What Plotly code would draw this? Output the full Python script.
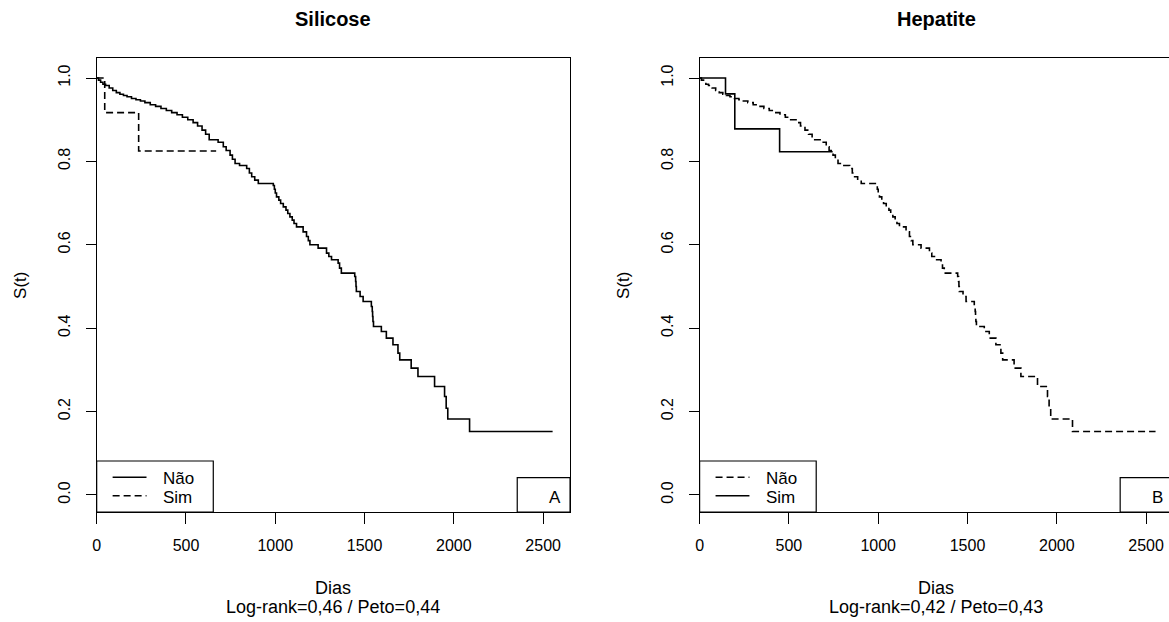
import plotly.graph_objects as go

# ---------------- data ----------------
# Silicose panel, group "Não" (solid)
sil_nao_t = [0, 10, 22, 35, 50, 70, 90, 110, 130, 150, 170, 195, 220, 245, 270, 300, 330, 360,
             390, 420, 450, 480, 510, 540, 565, 590, 610, 630, 680, 709, 725, 747, 760, 775,
             800, 840, 855, 868, 885, 905, 989, 995, 1000, 1007, 1020, 1030, 1045, 1060, 1070,
             1082, 1095, 1105, 1119, 1156, 1175, 1185, 1194, 1240, 1287, 1300, 1315, 1352, 1360,
             1370, 1445, 1450, 1452, 1454, 1475, 1492, 1538, 1543, 1545, 1547, 1550, 1594, 1622,
             1659, 1687, 1697, 1761, 1799, 1892, 1948, 1957, 1966, 2088, 2553]
sil_nao_s = [1.0, 0.995, 0.99, 0.985, 0.982, 0.976, 0.970, 0.965, 0.961, 0.958, 0.955, 0.951,
             0.948, 0.945, 0.941, 0.936, 0.932, 0.927, 0.922, 0.917, 0.912, 0.906, 0.900, 0.893,
             0.885, 0.875, 0.865, 0.852, 0.846, 0.835, 0.826, 0.815, 0.805, 0.795, 0.790, 0.783,
             0.772, 0.763, 0.755, 0.747, 0.742, 0.733, 0.724, 0.715, 0.707, 0.699, 0.691, 0.683,
             0.675, 0.667, 0.659, 0.651, 0.643, 0.631, 0.620, 0.610, 0.600, 0.592, 0.580, 0.572,
             0.564, 0.556, 0.544, 0.532, 0.524, 0.512, 0.500, 0.488, 0.476, 0.464, 0.452, 0.440,
             0.428, 0.416, 0.404, 0.392, 0.376, 0.360, 0.340, 0.324, 0.304, 0.284, 0.260, 0.236,
             0.208, 0.182, 0.152, 0.152]
# Silicose panel, group "Sim" (dashed)
sil_sim_t = [0, 45, 235, 669]
sil_sim_s = [1.0, 0.917, 0.825, 0.825]

# Hepatite panel, group "Não" (dashed)
hep_nao_t = list(sil_nao_t)
hep_nao_s = list(sil_nao_s)
# Hepatite panel, group "Sim" (solid)
hep_sim_t = [0, 145, 197, 448, 745]
hep_sim_s = [1.0, 0.962, 0.878, 0.823, 0.823]

x_ticks = [0, 500, 1000, 1500, 2000, 2500]
y_ticks = [0.0, 0.2, 0.4, 0.6, 0.8, 1.0]
y_ticktext = ["0.0", "0.2", "0.4", "0.6", "0.8", "1.0"]

titles = ["Silicose", "Hepatite"]
subtitles = ["Log-rank=0,46 / Peto=0,44", "Log-rank=0,42 / Peto=0,43"]
panel_letters = ["A", "B"]

# ---------------- layout helpers ----------------
W, H = 1169, 622
FONT = "Liberation Sans, Arial, sans-serif"
PXDAY = 0.1792  # pixels per day


def px(x):
    return x / W


def py(y):
    return 1 - y / H


BOX_TOP, BOX_BOT = 58, 512
L0, L1 = 93, 568
R0 = 698
DASH = "7px,4px"
LW = 1.6
BW = 1.2

fig = go.Figure()
fig.add_trace(go.Scatter(x=sil_nao_t, y=sil_nao_s, mode="lines", name="Não",
                         line=dict(shape="hv", color="black", width=LW),
                         xaxis="x", yaxis="y", showlegend=False))
fig.add_trace(go.Scatter(x=sil_sim_t, y=sil_sim_s, mode="lines", name="Sim",
                         line=dict(shape="hv", color="black", width=LW, dash=DASH),
                         xaxis="x", yaxis="y", showlegend=False))
fig.add_trace(go.Scatter(x=hep_nao_t, y=hep_nao_s, mode="lines", name="Não",
                         line=dict(shape="hv", color="black", width=LW, dash=DASH),
                         xaxis="x2", yaxis="y2", showlegend=False))
fig.add_trace(go.Scatter(x=hep_sim_t, y=hep_sim_s, mode="lines", name="Sim",
                         line=dict(shape="hv", color="black", width=LW),
                         xaxis="x2", yaxis="y2", showlegend=False))

ydom = [py(BOX_BOT), py(BOX_TOP)]
yr = [-0.041, 1.048]
common_x = dict(tickvals=x_ticks, ticks="outside", ticklen=11, tickwidth=BW, tickcolor="black",
                showline=True, mirror=True, linecolor="black", linewidth=BW,
                showgrid=False, zeroline=False, ticklabelstandoff=8,
                tickfont=dict(family=FONT, size=16, color="black"))
common_y = dict(tickvals=y_ticks, ticktext=y_ticktext, tickangle=-90, ticks="outside",
                ticklen=10, tickwidth=BW, tickcolor="black", showline=True,
                linecolor="black", linewidth=BW, showgrid=False, zeroline=False,
                range=yr, domain=ydom, ticklabelstandoff=9,
                tickfont=dict(family=FONT, size=16, color="black"))

fig.update_layout(
    width=W, height=H, margin=dict(l=0, r=0, t=0, b=0),
    paper_bgcolor="white", plot_bgcolor="white", showlegend=False,
    xaxis=dict(domain=[px(L0), px(L1)], range=[0, (L1 - L0) / PXDAY], anchor="y", **common_x),
    yaxis=dict(anchor="x", mirror=True, **common_y),
    xaxis2=dict(domain=[px(R0), 1.0], range=[0, (W - R0) / PXDAY], anchor="y2", **common_x),
    yaxis2=dict(anchor="x2", mirror=False, **common_y),
)

shapes = []
annotations = []
for i, x0 in enumerate([L0, R0]):
    cx = x0 + (L1 - L0) / 2
    annotations.append(dict(text=titles[i], x=px(cx), y=py(19), xref="paper", yref="paper",
                            showarrow=False, xanchor="center", yanchor="middle",
                            font=dict(family=FONT, size=20, color="black", weight="bold")))
    annotations.append(dict(text="Dias", x=px(cx), y=py(588), xref="paper", yref="paper",
                            showarrow=False, xanchor="center", yanchor="middle",
                            font=dict(family=FONT, size=18, color="black")))
    annotations.append(dict(text=subtitles[i], x=px(cx), y=py(607), xref="paper", yref="paper",
                            showarrow=False, xanchor="center", yanchor="middle",
                            font=dict(family=FONT, size=18, color="black")))
    annotations.append(dict(text="S(t)", x=px(x0 - 77), y=py(285), xref="paper", yref="paper",
                            showarrow=False, xanchor="center", yanchor="middle", textangle=-90,
                            font=dict(family=FONT, size=17, color="black")))
    # legend box
    shapes.append(dict(type="rect", xref="paper", yref="paper", x0=px(x0), x1=px(x0 + 117),
                       y0=py(BOX_BOT), y1=py(461), line=dict(color="black", width=BW)))
    styles = [None, "dash"] if i == 0 else ["dash", None]
    for j, (lab, ly) in enumerate([("Não", 477.3), ("Sim", 495.7)]):
        shapes.append(dict(type="line", xref="paper", yref="paper", x0=px(x0 + 16),
                           x1=px(x0 + 50), y0=py(ly), y1=py(ly),
                           line=dict(color="black", width=LW,
                                     dash=DASH if styles[j] else "solid")))
        annotations.append(dict(text=lab, x=px(x0 + 65), y=py(ly + 1.5), xref="paper",
                                yref="paper", showarrow=False, xanchor="left",
                                yanchor="middle",
                                font=dict(family=FONT, size=17, color="black")))
    # panel letter box
    bx0 = x0 + 422
    shapes.append(dict(type="rect", xref="paper", yref="paper", x0=px(bx0),
                       x1=px(min(bx0 + 53, W + 5)), y0=py(BOX_BOT), y1=py(477.7),
                       line=dict(color="black", width=BW)))
    annotations.append(dict(text=panel_letters[i], x=px(bx0 + 37.5), y=py(497), xref="paper",
                            yref="paper", showarrow=False, xanchor="center", yanchor="middle",
                            font=dict(family=FONT, size=17, color="black")))

fig.update_layout(shapes=shapes, annotations=annotations)
fig.write_html("out.html")
